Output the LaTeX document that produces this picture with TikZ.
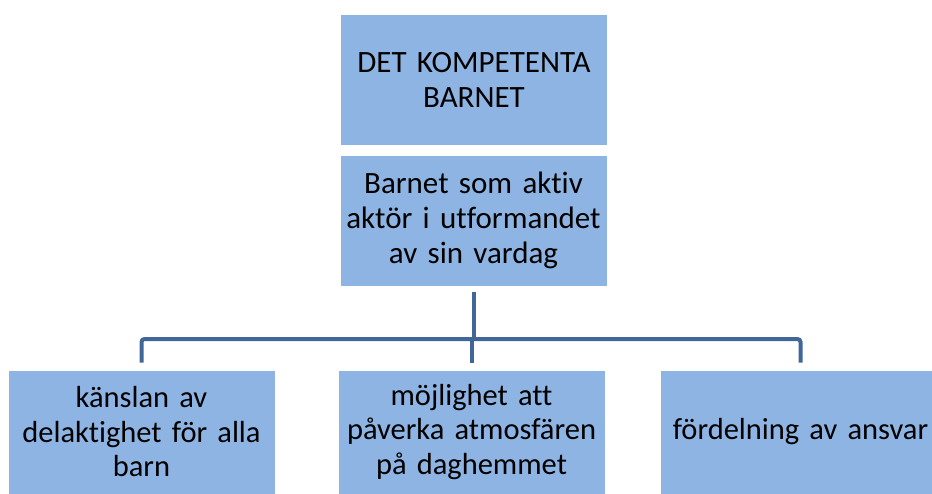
\documentclass[tikz,border=0pt]{standalone}
\usepackage{fontspec}
\setmainfont{Carlito}[Ligatures={NoCommon,NoRare,NoDiscretionary}]
\definecolor{boxfill}{RGB}{142,180,227}
\definecolor{connline}{RGB}{65,103,153}
\begin{document}
\begin{tikzpicture}[x=1pt,y=-1pt,
  box/.style={fill=boxfill, draw=white, line width=0.6pt, minimum width=267pt, minimum height=131pt,
    inner sep=0pt, align=center, font=\fontsize{31}{35}\selectfont, text width=262pt},
  lowbox/.style={box, minimum height=124pt, font=\fontsize{30.5}{34.5}\selectfont},
  conn/.style={draw=connline, line width=4pt}]
\useasboundingbox (0,0) rectangle (932,493);
\clip (0,0) rectangle (932,493);
\node[box] (top) at (474,79.5) {DET KOMPETENTA\\BARNET};
\node[box] (mid) at (473.5,220.5) {Barnet som aktiv\\aktör i utformandet\\av sin vardag};
\node[lowbox] (l) at (141.5,432) {känslan av\\delaktighet för alla\\barn};
\node[lowbox] (m) at (471.5,432) {möjlighet att\\påverka atmosfären\\på daghemmet};
\node[lowbox, text width=280pt] (r) at (800.5,432) {fördelning av ansvar};
\coordinate (bar) at (0,339);
\draw[conn] ([yshift=-6pt]mid.south) -- (mid.south |- bar);
\draw[conn, rounded corners=3pt] ([yshift=7pt]l.north) |- (m.north |- bar) -| ([yshift=7pt]r.north);
\draw[conn] (m.north |- bar) -- ([yshift=7pt]m.north);
\end{tikzpicture}
\end{document}
